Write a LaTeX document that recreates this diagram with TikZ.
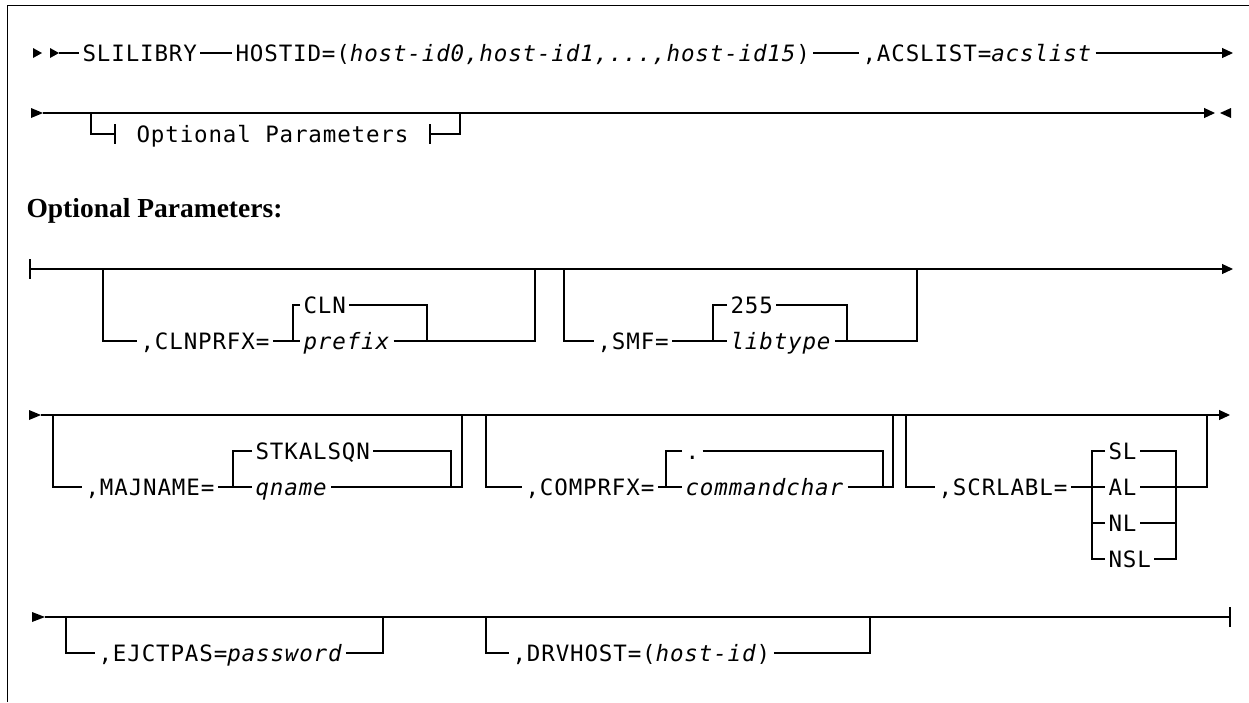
\documentclass[tikz,border=0pt]{standalone}
\usepackage{fontspec}
\usetikzlibrary{arrows.meta}
\newfontfamily\dia[LetterSpace=3.8]{DejaVu Sans Mono}
\newfontfamily\headfont{Liberation Serif}
\tikzset{
  txt/.style={font=\dia\fontsize{22.5pt}{22.5pt}\selectfont, inner xsep=3pt, inner ysep=0pt,
    text height=16.4pt, text depth=0pt, anchor=west},
  endarrow/.style={-{Triangle[length=11pt,width=10pt]}},
  head/.style={anchor=base west, inner sep=0pt, font=\headfont\bfseries\fontsize{27.5pt}{30pt}\selectfont}
}
\begin{document}
\begin{tikzpicture}[x=1pt,y=-1pt,line width=1.1pt]
\useasboundingbox (0,0) rectangle (1249,702);
% frame
\draw[line width=1pt] (7,702) -- (7,5) -- (1249,5);

% ---------- row 1
\fill (33,48) -- (42,53) -- (33,58) -- cycle;
\fill (50,48) -- (59,53) -- (50,58) -- cycle;
\coordinate (s1) at (59,53);
\coordinate (e1) at (1233,53);
\node[txt] (slil) at (79,53) {SLILIBRY};
\node[txt] (host) at (232,53) {HOSTID=(\textit{host-id0,host-id1,...,host-id15})};
\node[txt] (acs) at (859,53) {,ACSLIST=\textit{acslist}};
\draw (s1) -- (slil.west);
\draw (slil.east) -- (host.west);
\draw (host.east) -- (acs.west);
\draw[endarrow] (acs.east) -- (e1);

% ---------- row 2
\fill (31,108) -- (43,113) -- (31,118) -- cycle;
\coordinate (s2) at (43,113);
\coordinate (e2) at (1215,113);
\draw[endarrow] (s2) -- (e2);
\fill (1231,108) -- (1220,113) -- (1231,118) -- cycle;
\coordinate (h1) at (91,113);
\coordinate (h2) at (460,113);
\node[txt, inner xsep=21pt] (opt) at (115,134) {Optional Parameters};
\draw (h1) |- (opt.west);
\draw (opt.east) -| (h2);
\draw ([yshift=10pt]opt.west) -- ([yshift=-10pt]opt.west);
\draw ([yshift=10pt]opt.east) -- ([yshift=-10pt]opt.east);

% ---------- heading
\node[head] (hd) at (26,217) {Optional Parameters:};

% ---------- optional row 1
\coordinate (s3) at (30,269);
\coordinate (e3) at (1233,269);
\draw ([yshift=10pt]s3) -- ([yshift=-10pt]s3);
\draw[endarrow] (s3) -- (e3);
\coordinate (b1) at (103,269);
\coordinate (k1) at (293,341);
\coordinate (k2) at (427,341);
\coordinate (b2) at (535,269);
\node[txt] (clnp) at (137,341) {,CLNPRFX=};
\node[txt] (cln) at (300,305) {CLN};
\node[txt] (pref) at (300,341) {\textit{prefix}};
\draw (b1) |- (clnp.west);
\draw (clnp.east) -- (pref.west);
\draw (cln.west) -| (k1);
\draw (cln.east) -| (k2);
\draw (pref.east) -| (b2);
\coordinate (b3) at (564,269);
\coordinate (k3) at (713,341);
\coordinate (k4) at (847,341);
\coordinate (b4) at (917,269);
\node[txt] (smf) at (594,341) {,SMF=};
\node[txt] (n255) at (727,305) {255};
\node[txt] (lib) at (727,341) {\textit{libtype}};
\draw (b3) |- (smf.west);
\draw (smf.east) -- (lib.west);
\draw (n255.west) -| (k3);
\draw (n255.east) -| (k4);
\draw (lib.east) -| (b4);

% ---------- optional row 2
\fill (29,410) -- (41,415) -- (29,420) -- cycle;
\coordinate (s4) at (41,415);
\coordinate (e4) at (1230,415);
\draw[endarrow] (s4) -- (e4);
\coordinate (b5) at (53,415);
\coordinate (k5) at (233,487);
\coordinate (k6) at (451,487);
\coordinate (b6) at (462,415);
\node[txt] (maj) at (82,487) {,MAJNAME=};
\node[txt] (stk) at (252,451) {STKALSQN};
\node[txt] (qn) at (252,487) {\textit{qname}};
\draw (b5) |- (maj.west);
\draw (maj.east) -- (qn.west);
\draw (stk.west) -| (k5);
\draw (stk.east) -| (k6);
\draw (qn.east) -| (b6);
\coordinate (b7) at (486,415);
\coordinate (k7) at (666,487);
\coordinate (k8) at (883,487);
\coordinate (b8) at (893,415);
\node[txt] (comp) at (522,487) {,COMPRFX=};
\node[txt] (dot) at (682,451) {.};
\node[txt] (cmd) at (682,487) {\textit{commandchar}};
\draw (b7) |- (comp.west);
\draw (comp.east) -- (cmd.west);
\draw (dot.west) -| (k7);
\draw (dot.east) -| (k8);
\draw (cmd.east) -| (b8);
\coordinate (b9) at (906,415);
\coordinate (k9) at (1092,505);
\coordinate (k10) at (1176,505);
\coordinate (b10) at (1207,415);
\node[txt] (scr) at (935,487) {,SCRLABL=};
\node[txt] (sl) at (1105,451) {SL};
\node[txt] (al) at (1105,487) {AL};
\node[txt] (nl) at (1105,523) {NL};
\node[txt] (nsl) at (1105,559) {NSL};
\draw (b9) |- (scr.west);
\draw (scr.east) -- (al.west);
\draw (sl.west) -| (k9) |- (nsl.west);
\draw (nl.west) -- (nl.west -| k9);
\draw (sl.east) -| (k10) |- (nsl.east);
\draw (nl.east) -- (nl.east -| k10);
\draw (al.east) -| (b10);

% ---------- optional row 3
\fill (32,612) -- (45,617) -- (32,622) -- cycle;
\coordinate (s5) at (45,617);
\coordinate (e5) at (1230,617);
\draw (s5) -- (e5);
\draw ([yshift=10pt]e5) -- ([yshift=-10pt]e5);
\coordinate (b11) at (66,617);
\coordinate (b12) at (383,617);
\node[txt] (ej) at (95,653) {,EJCTPAS=\textit{password}};
\draw (b11) |- (ej.west);
\draw (ej.east) -| (b12);
\coordinate (b13) at (486,617);
\coordinate (b14) at (870,617);
\node[txt] (drv) at (509,653) {,DRVHOST=(\textit{host-id})};
\draw (b13) |- (drv.west);
\draw (drv.east) -| (b14);
\end{tikzpicture}
\end{document}
